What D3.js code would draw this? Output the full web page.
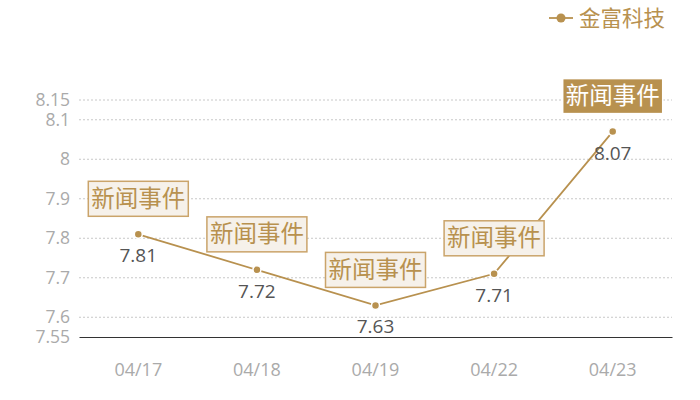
<!DOCTYPE html>
<html>
<head>
<meta charset="utf-8">
<script src="https://cdn.jsdelivr.net/npm/d3@7"></script>
<style>
  body { margin: 0; background: #fff; }
  svg { display: block; font-family: "Noto Sans CJK SC", "Noto Sans", sans-serif; }
  .num { font-family: "Open Sans", "Noto Sans", sans-serif; }
</style>
</head>
<body>
<svg width="700" height="400"></svg>
<script>
var dates = ["04/17", "04/18", "04/19", "04/22", "04/23"];
var prices = [7.81, 7.72, 7.63, 7.71, 8.07];
var eventLabels = ["新闻事件", "新闻事件", "新闻事件", "新闻事件", "新闻事件"];
var yTicks = [7.55, 7.6, 7.7, 7.8, 7.9, 8, 8.1, 8.15];
var seriesName = "金富科技";

var gold = "#b8914f";
var svg = d3.select("svg");

var x = d3.scaleBand().domain(dates).range([79, 672]);
var y = d3.scaleLinear().domain([7.55, 8.15]).range([337, 100]);

// grid lines
svg.append("g")
  .selectAll("line")
  .data(yTicks.filter(function (d) { return d !== 7.55; }))
  .join("line")
  .attr("x1", 79)
  .attr("x2", 672)
  .attr("y1", function (d) { return y(d); })
  .attr("y2", function (d) { return y(d); })
  .attr("stroke", "#c8c8c8")
  .attr("stroke-dasharray", "2,2");

// y axis labels
var yAxis = svg.append("g")
  .attr("transform", "translate(79,0)")
  .call(d3.axisLeft(y).tickValues(yTicks).tickSize(0).tickPadding(9).tickFormat(d3.format("")));
yAxis.select(".domain").remove();
yAxis.selectAll("text")
  .attr("class", "num")
  .attr("fill", "#aaa")
  .style("font-size", "17.5px");

// x axis
var xAxis = svg.append("g")
  .attr("transform", "translate(0,337)")
  .call(d3.axisBottom(x).tickSize(0).tickPadding(26));
xAxis.select(".domain").attr("stroke", "#333").attr("stroke-width", 1.2);
xAxis.selectAll("text")
  .attr("class", "num")
  .attr("fill", "#aaa")
  .style("font-size", "18px");

var cx = function (d, i) { return x(dates[i]) + x.bandwidth() / 2; };

// line
var line = d3.line()
  .x(function (d, i) { return cx(d, i); })
  .y(function (d) { return y(d); });

svg.append("path")
  .datum(prices)
  .attr("d", line)
  .attr("fill", "none")
  .attr("stroke", gold)
  .attr("stroke-width", 1.8);

// points
svg.append("g")
  .selectAll("circle")
  .data(prices)
  .join("circle")
  .attr("cx", cx)
  .attr("cy", function (d) { return y(d); })
  .attr("r", 4)
  .attr("fill", gold)
  .attr("stroke", "#fff")
  .attr("stroke-width", 1.5);

// value labels
svg.append("g")
  .selectAll("text")
  .data(prices)
  .join("text")
  .attr("class", "num")
  .attr("x", cx)
  .attr("y", function (d) { return y(d) + 28; })
  .attr("text-anchor", "middle")
  .attr("fill", "#555")
  .style("font-size", "19px")
  .text(function (d) { return d3.format(".2f")(d); });

// event boxes
var boxW = 100, boxH = 35;
var last = prices.length - 1;
var boxes = svg.append("g")
  .selectAll("g")
  .data(prices)
  .join("g")
  .attr("transform", function (d, i) {
    return "translate(" + (cx(d, i) - boxW / 2) + "," + (y(d) - 18 - boxH) + ")";
  });

boxes.append("rect")
  .attr("width", boxW)
  .attr("height", boxH)
  .attr("fill", function (d, i) { return i === last ? gold : "#f6f1ea"; })
  .attr("stroke", function (d, i) { return i === last ? "#fff" : "#caa46a"; })
  .attr("stroke-width", 1.5);

boxes.append("text")
  .attr("x", boxW / 2)
  .attr("y", boxH / 2 + 8)
  .attr("text-anchor", "middle")
  .attr("fill", function (d, i) { return i === last ? "#fff" : gold; })
  .style("font-size", "23.5px")
  .text(function (d, i) { return eventLabels[i]; });

// legend
var legend = svg.append("g").attr("transform", "translate(549,18)");
legend.append("line")
  .attr("x1", 0).attr("x2", 24)
  .attr("stroke", gold).attr("stroke-width", 1.8);
legend.append("circle")
  .attr("cx", 12).attr("r", 4.5)
  .attr("fill", gold);
legend.append("text")
  .attr("x", 30)
  .attr("y", 8)
  .attr("fill", gold)
  .style("font-size", "21.5px")
  .text(seriesName);
</script>
</body>
</html>
